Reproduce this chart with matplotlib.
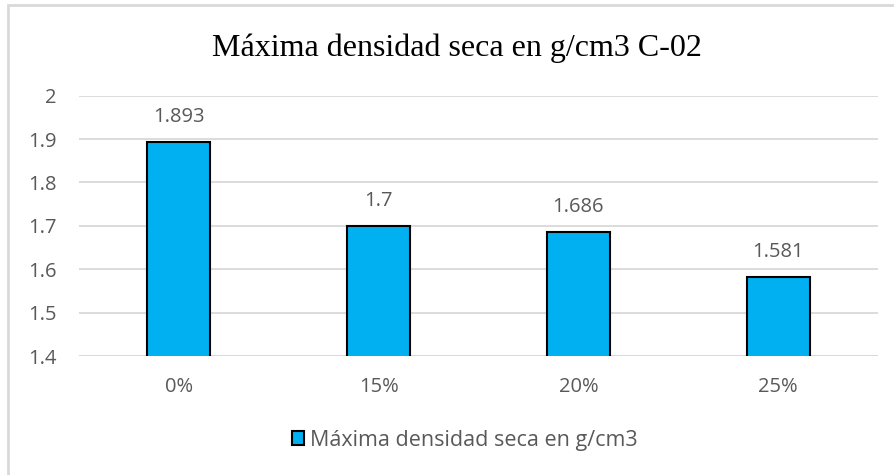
import matplotlib.pyplot as plt
from matplotlib.patches import Rectangle

categories = ["0%", "15%", "20%", "25%"]
values = [1.893, 1.7, 1.686, 1.581]
value_labels = ["1.893", "1.7", "1.686", "1.581"]
y_ticks = [1.4, 1.5, 1.6, 1.7, 1.8, 1.9, 2.0]
y_tick_labels = ["1.4", "1.5", "1.6", "1.7", "1.8", "1.9", "2"]
series_name = "Máxima densidad seca en g/cm3"
title = "Máxima densidad seca en g/cm3 C-02"

text_color = "#595959"
grid_color = "#d9d9d9"
bar_color = "#00B0F0"
sans = ["Open Sans", "DejaVu Sans"]
fs = 14.5

fig = plt.figure(figsize=(8.95, 4.75), dpi=100)
ax = fig.add_axes([0.0883, 0.2505, 0.8927, 0.548])

x = list(range(len(categories)))
ax.bar(x, values, width=0.315, bottom=0, color=bar_color, edgecolor="black",
       linewidth=1.5, label=series_name, zorder=3)

for xi, v, lab in zip(x, values, value_labels):
    ax.annotate(lab, (xi, v), xytext=(0, 11), textcoords="offset points",
                ha="center", va="bottom", fontsize=fs, color=text_color,
                family=sans)

ax.set_xlim(-0.5, len(categories) - 0.5)
ax.set_ylim(1.4, 2.0)
ax.set_yticks(y_ticks)
ax.set_yticklabels(y_tick_labels, family=sans, fontsize=fs, color=text_color)
ax.set_xticks(x)
ax.set_xticklabels(categories, family=sans, fontsize=fs, color=text_color)
ax.tick_params(axis="both", length=0)
ax.tick_params(axis="x", pad=15)
ax.tick_params(axis="y", pad=16)

ax.grid(axis="y", color=grid_color, linewidth=1.3, zorder=0)
for s in ax.spines.values():
    s.set_visible(False)
ax.axhline(1.4, color=grid_color, linewidth=1.3, zorder=1)

fig.text(0.510, 1 - 56 / 475, title, ha="center", va="baseline", fontsize=23,
         family="Liberation Serif", color="black")

leg = fig.legend(loc="center", bbox_to_anchor=(0.519, 0.073), frameon=False,
                 prop={"family": sans, "size": 15.5}, handlelength=0.6,
                 handleheight=0.6, handletextpad=0.25)
for t in leg.get_texts():
    t.set_color(text_color)

# outer chart frame
fig.patches.append(Rectangle((8 / 895, -0.05), 1.2, 1.0 - 5 / 475 + 0.05,
                             transform=fig.transFigure, fill=False,
                             edgecolor="#d9d9d9", linewidth=2))

fig.savefig("out.png", dpi=100)
